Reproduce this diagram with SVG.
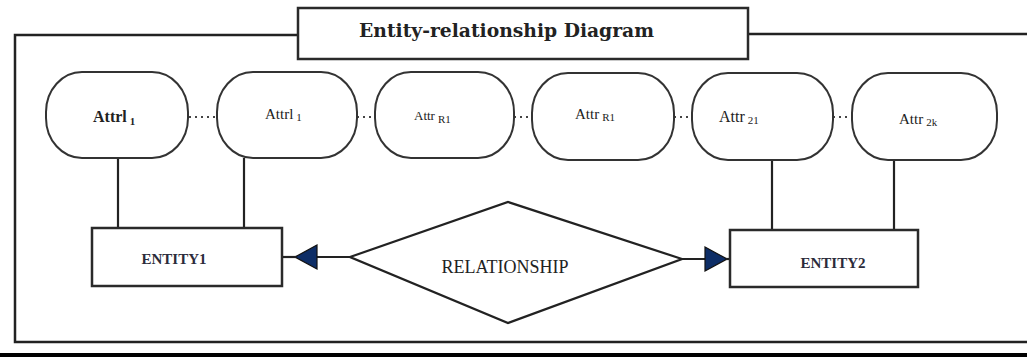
<svg xmlns="http://www.w3.org/2000/svg" width="1027" height="358" viewBox="0 0 1027 358">
<style>
.frame{fill:none;stroke:#222;stroke-width:2.5}
.box{fill:#fff;stroke:#2a2a2a;stroke-width:2.5}
.attr{fill:#fff;stroke:#333;stroke-width:2}
.link{fill:none;stroke:#222;stroke-width:2.2}
.dots{fill:none;stroke:#444;stroke-width:2;stroke-dasharray:2 4}
.t{font-family:"Liberation Serif","DejaVu Serif",serif;fill:#222}
.ab{font-size:16px;font-weight:bold}
.ar{font-size:15px}
.sub{font-size:11px}
.ent{font-size:15px;font-weight:bold;fill:#2b2b3a}
</style>
<defs>
<marker id="arrow" markerUnits="userSpaceOnUse" markerWidth="24" markerHeight="26" viewBox="0 0 24 26" refX="23" refY="13" orient="auto">
<path d="M1,1 L23,13 L1,25 Z" fill="#0d2d66" stroke="#111" stroke-width="1.2"/>
</marker>
</defs>
<rect width="1027" height="358" fill="#fff"/>
<g id="frame">
<path class="frame" d="M298,35 H15 V342 H1027"/>
<path class="frame" d="M748,34 H1027"/>
<line x1="0" y1="355" x2="1027" y2="355" stroke="#000" stroke-width="4"/>
</g>
<g id="title">
<rect class="box" x="298" y="8" width="450" height="51"/>
<text x="359" y="37" font-family="'DejaVu Serif',serif" font-size="18" font-weight="bold" fill="#222" textLength="295" lengthAdjust="spacingAndGlyphs">Entity-relationship Diagram</text>
</g>
<g id="connectors">
<line class="dots" x1="189" y1="117" x2="217" y2="117"/>
<line class="dots" x1="357" y1="117" x2="375" y2="117"/>
<line class="dots" x1="514" y1="117" x2="532" y2="117"/>
<line class="dots" x1="674" y1="117" x2="692" y2="117"/>
<line class="dots" x1="833" y1="117" x2="852" y2="117"/>
<line class="link" x1="118" y1="158" x2="118" y2="228"/>
<line class="link" x1="244" y1="158" x2="244" y2="228"/>
<line class="link" x1="772" y1="160" x2="772" y2="230"/>
<line class="link" x1="894" y1="160" x2="894" y2="230"/>
<path class="link" d="M350,257 H295" marker-end="url(#arrow)"/>
<line class="link" x1="296" y1="257" x2="282" y2="257"/>
<path class="link" d="M682,259 H727" marker-end="url(#arrow)"/>
<line class="link" x1="726" y1="259" x2="730" y2="259"/>
</g>
<g id="attr1">
<rect class="attr" x="46" y="72" width="142" height="86" rx="36" ry="40"/>
<text class="t ab" x="93" y="122">Attrl<tspan class="sub" dx="3" dy="3">1</tspan></text>
</g>
<g id="attr2">
<rect class="attr" x="217" y="72" width="140" height="86" rx="36" ry="40"/>
<text class="t ar" x="265" y="119">Attrl<tspan class="sub" dx="3" dy="2">1</tspan></text>
</g>
<g id="attr3">
<rect class="attr" x="375" y="72" width="139" height="86" rx="36" ry="40"/>
<text class="t" font-size="13" x="414" y="120">Attr<tspan class="sub" dx="3" dy="3">R1</tspan></text>
</g>
<g id="attr4">
<rect class="attr" x="532" y="73" width="142" height="87" rx="36" ry="40"/>
<text class="t ar" x="575" y="119">Attr<tspan class="sub" dx="3" dy="2">R1</tspan></text>
</g>
<g id="attr5">
<rect class="attr" x="692" y="73" width="141" height="87" rx="36" ry="40"/>
<text class="t" font-size="16" x="719" y="122">Attr<tspan class="sub" dx="3" dy="2">21</tspan></text>
</g>
<g id="attr6">
<rect class="attr" x="852" y="73" width="145" height="87" rx="36" ry="40"/>
<text class="t ar" x="899" y="124">Attr<tspan class="sub" dx="3" dy="2">2k</tspan></text>
</g>
<g id="entity1">
<rect class="box" x="92" y="228" width="190" height="58"/>
<text class="t ent" x="174" y="264" text-anchor="middle">ENTITY1</text>
</g>
<g id="entity2">
<rect class="box" x="730" y="230" width="188" height="57"/>
<text class="t ent" x="833" y="268" text-anchor="middle">ENTITY2</text>
</g>
<g id="relationship">
<polygon points="350,257 508,202 682,259 508,323" fill="#fff" stroke="#222" stroke-width="2.2"/>
<text class="t" font-size="18" fill="#3a3a4a" x="505" y="273" text-anchor="middle">RELATIONSHIP</text>
</g>
</svg>
